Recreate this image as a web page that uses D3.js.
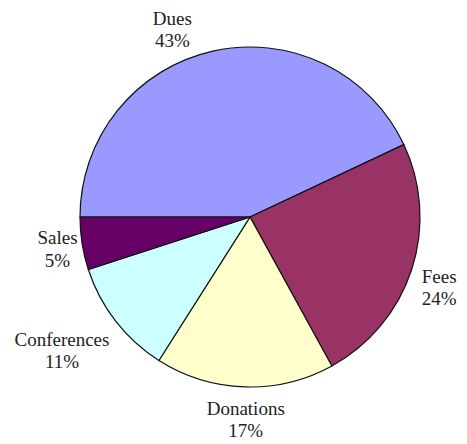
<!DOCTYPE html>
<html>
<head>
<meta charset="utf-8">
<script src="https://cdn.jsdelivr.net/npm/d3@7"></script>
<style>
  body { margin: 0; background: #fff; }
  text { font-family: "Liberation Serif", "Times New Roman", serif; font-size: 19px; fill: #222; }
</style>
</head>
<body>
<svg width="467" height="444"></svg>
<script>
// Revenue sources (percent)
const categories = ["Dues", "Fees", "Donations", "Conferences", "Sales"];
const values = [43, 24, 17, 11, 5];
const colors = ["#9999FF", "#993366", "#FFFFCC", "#CCFFFF", "#660066"];

const svg = d3.select("svg");
const cx = 250, cy = 217, radius = 170;

// pie starts at 9 o'clock and runs clockwise
const pie = d3.pie()
    .value(d => d.value)
    .sort(null)
    .startAngle(-Math.PI / 2)
    .endAngle(3 * Math.PI / 2);

const data = categories.map((c, i) => ({ name: c, value: values[i], color: colors[i] }));
const arcs = pie(data);

const arc = d3.arc().innerRadius(0).outerRadius(radius);

const g = svg.append("g").attr("transform", `translate(${cx},${cy})`);

g.selectAll("path")
    .data(arcs)
    .enter().append("path")
    .attr("d", arc)
    .attr("fill", d => d.data.color)
    .attr("stroke", "#111")
    .attr("stroke-width", 1.2);

// label placement: outside the pie, with small nudges like the original
const labelArc = d3.arc().innerRadius(200).outerRadius(200);
const nudge = { Dues: [-34, 3], Fees: [-1, 4], Donations: [2, -2], Conferences: [-30, 6], Sales: [5, -4] };

const labels = g.selectAll(".label")
    .data(arcs)
    .enter().append("text")
    .attr("class", "label")
    .attr("text-anchor", "middle")
    .attr("transform", d => {
        const [x, y] = labelArc.centroid(d);
        const [nx, ny] = nudge[d.data.name];
        return `translate(${x + nx},${y + ny})`;
    });

labels.append("tspan")
    .attr("x", 0)
    .text(d => d.data.name);

labels.append("tspan")
    .attr("x", 0)
    .attr("dy", 22.5)
    .text(d => d.data.value + "%");
</script>
</body>
</html>
